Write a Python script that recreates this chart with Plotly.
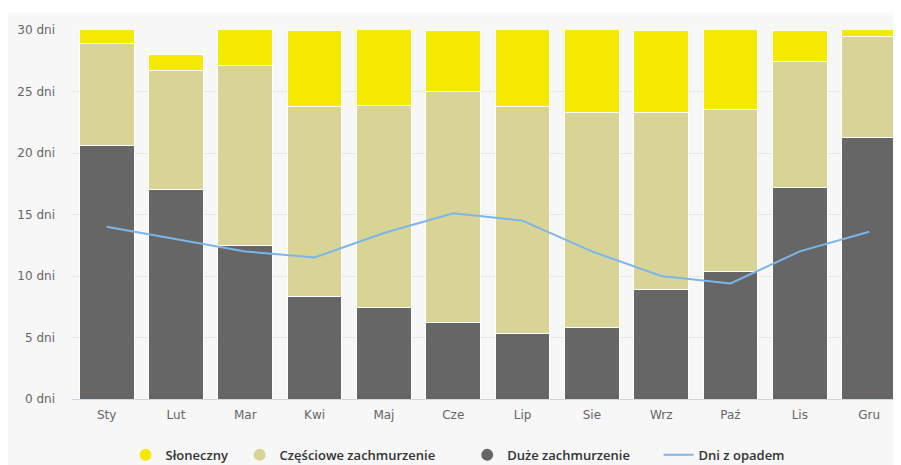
import plotly.graph_objects as go

months = ["Sty", "Lut", "Mar", "Kwi", "Maj", "Cze", "Lip", "Sie", "Wrz", "Paź", "Lis", "Gru"]
duze = [20.6, 17.0, 12.5, 8.3, 7.4, 6.2, 5.3, 5.8, 8.9, 10.4, 17.2, 21.3]
czesciowe = [8.3, 9.7, 14.6, 15.5, 16.5, 18.8, 18.5, 17.5, 14.4, 13.1, 10.2, 8.2]
sloneczny = [2.1, 1.3, 3.9, 6.2, 7.1, 5.0, 7.2, 7.7, 6.7, 7.5, 2.6, 1.5]
opady = [14.0, 13.0, 12.0, 11.5, 13.5, 15.1, 14.5, 12.0, 10.0, 9.4, 12.0, 13.6]
y_ticks = [0, 5, 10, 15, 20, 25, 30]
y_labels = [f"{v} dni" for v in y_ticks]

C_SUN = "#f5e900"
C_PART = "#d8d495"
C_DARK = "#666666"
C_LINE = "#7cb5ec"

# page body has an 8px margin, so the figure sits at (8, 8) in the window
OFF = 8
W, H = 901 - OFF, 465 - OFF
ML, MR, MT = 72 - OFF, 0, 29.5 - OFF
MB = H - (399 - OFF)
PW, PH = W - ML - MR, H - MT - MB

fig = go.Figure()
for name, vals, col in [("Duże zachmurzenie", duze, C_DARK),
                        ("Częściowe zachmurzenie", czesciowe, C_PART),
                        ("Słoneczny", sloneczny, C_SUN)]:
    fig.add_trace(go.Bar(x=months, y=vals, name=name, marker=dict(color=col, line=dict(color="#ffffff", width=1)),
                         showlegend=False, hoverinfo="skip"))
fig.add_trace(go.Scatter(x=months, y=opady, mode="lines", line=dict(color=C_LINE, width=2), showlegend=False))

NB = "\u00a0"
for name, col, npad in [("Słoneczny", C_SUN, 2), ("Częściowe zachmurzenie", C_PART, 8),
                        ("Duże zachmurzenie", C_DARK, 7)]:
    fig.add_trace(go.Scatter(x=[None], y=[None], mode="markers", name=name + NB * npad,
                             marker=dict(color=col, size=12, symbol="circle")))
fig.add_trace(go.Scatter(x=[None], y=[None], mode="lines", name="Dni z opadem",
                         line=dict(color=C_LINE, width=2)))

fig.update_layout(
    width=W, height=H,
    barmode="stack", bargap=0.21,
    paper_bgcolor="#ffffff", plot_bgcolor="#f7f7f7",
    margin=dict(l=ML, r=MR, t=MT, b=MB, autoexpand=False),
    font=dict(family="DejaVu Sans", size=12, color="#666666"),
    legend=dict(orientation="h", x=(458 - 72) / PW, xanchor="center", y=-(455 - 399) / PH, yanchor="middle",
                font=dict(family="Open Sans", size=13, color="#333333", weight=600),
                bgcolor="rgba(0,0,0,0)", itemwidth=30, traceorder="normal"),
    shapes=[dict(type="rect", xref="paper", yref="paper", x0=-ML / PW, x1=1.0,
                 y0=-MB / PH, y1=(MT - 4) / PH + 1.0,
                 fillcolor="#f7f7f7", line=dict(width=0), layer="below")],
)
fig.update_xaxes(showgrid=False, showline=True, linecolor="#ccd6eb", linewidth=1,
                 ticks="", range=[-0.5, 11.46], ticklabelstandoff=5,
                 tickfont=dict(color="#666666", size=12))
fig.update_yaxes(range=[0, 30], tickvals=y_ticks, ticktext=y_labels,
                 showgrid=True, gridcolor="#e6e6e6", gridwidth=1, zeroline=False,
                 ticks="", ticklabelstandoff=16, tickfont=dict(color="#666666", size=12))

fig.write_html("out.html")
